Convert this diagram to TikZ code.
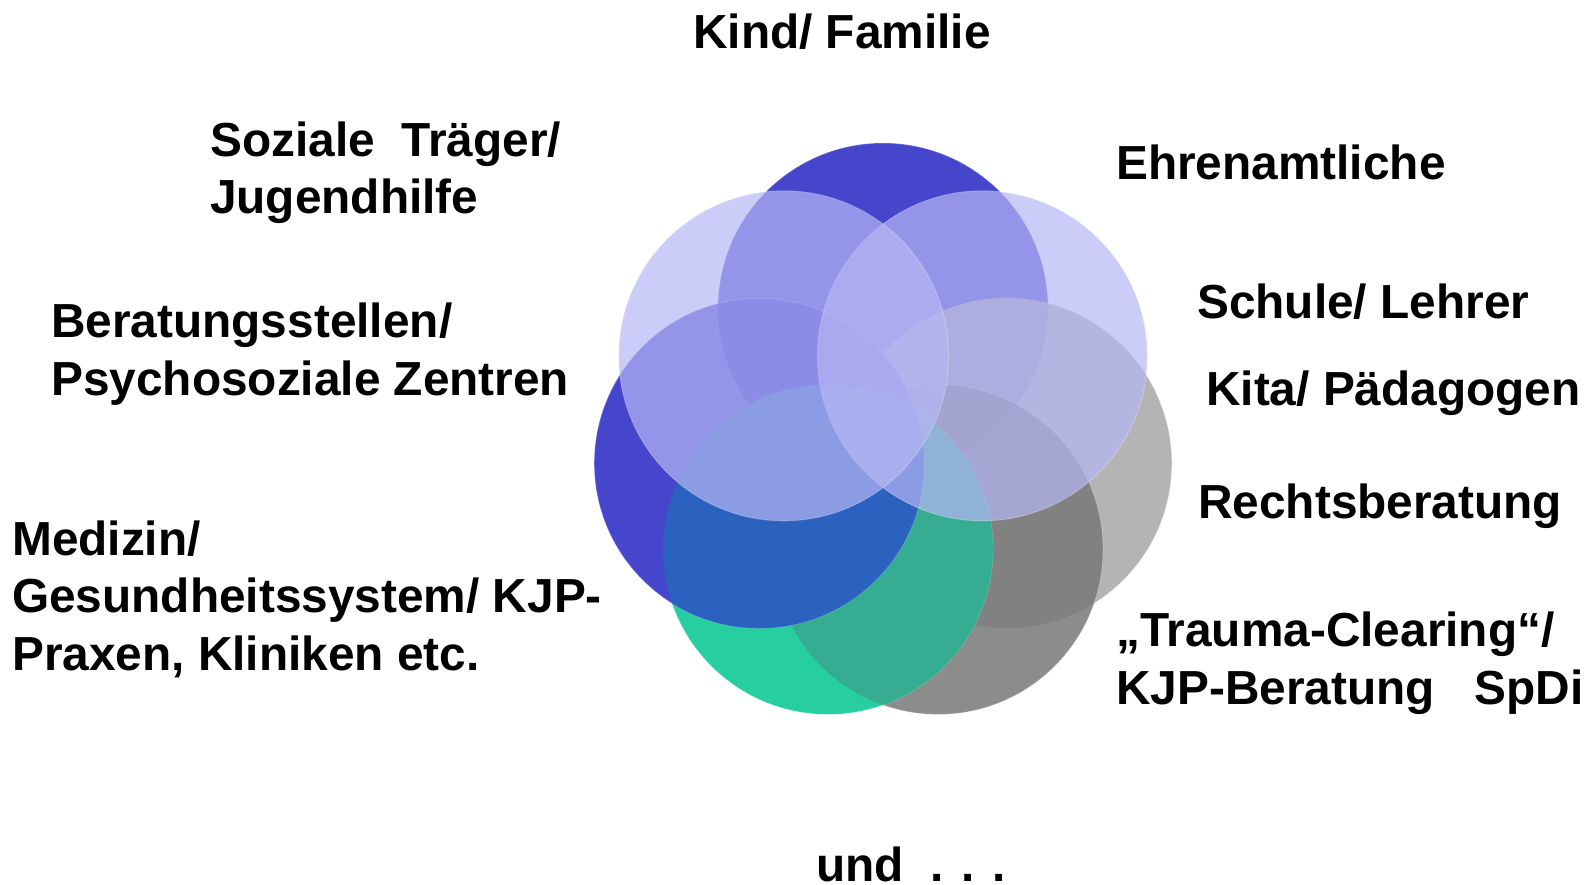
\documentclass[tikz,border=0pt]{standalone}
\usepackage{fontspec}
\setmainfont{Liberation Sans}
\usetikzlibrary{calc}

\definecolor{ringblue}{RGB}{38,38,196}
\definecolor{ringgreen}{RGB}{0,198,143}
\definecolor{ringmix}{RGB}{44,102,192}
\definecolor{ringteal}{RGB}{58,172,148}
\definecolor{ringgrey}{RGB}{167,167,167}
\definecolor{ringdark}{RGB}{120,120,120}
\definecolor{ringlilac}{RGB}{182,182,245}

\begin{document}
\begin{tikzpicture}[x=1pt, y=-1pt,
    ring/.style={circle, minimum size=330pt, inner sep=0pt, fill opacity=0.85, draw=white, draw opacity=0.25, line width=1pt},
    lilac/.style={ring, fill=ringlilac, fill opacity=0.7},
    partner/.style={anchor=base west, inner sep=0pt, align=left, font=\fontsize{47.8}{57.5}\selectfont\bfseries}]
    \useasboundingbox (0,0) rectangle (1594,885);
    \coordinate (mid) at (883,435);

    % rosette of seven circles
    \node[ring, fill=ringblue] (ring-top) at ($(mid)+(-90:127)$) {};
    \node[ring, fill=ringgrey] (ring-right) at ($(mid)+(12.86:127)$) {};
    \node[ring, fill=ringdark] (ring-lowright) at ($(mid)+(64.29:127)$) {};
    \node[ring, fill=ringgreen] (ring-lowleft) at ($(mid)+(115.71:127)$) {};
    % green over grey
    \begin{scope}
        \clip (ring-lowleft.center) circle (165);
        \fill[ringteal, opacity=0.9] (ring-lowright.center) circle (165);
    \end{scope}
    \node[ring, fill=ringblue] (ring-left) at ($(mid)+(167.14:127)$) {};
    % blue over green
    \begin{scope}
        \clip (ring-left.center) circle (165);
        \fill[ringmix, opacity=0.9] (ring-lowleft.center) circle (165);
    \end{scope}
    \node[lilac] (ring-topright) at ($(mid)+(-38.57:127)$) {};
    \node[lilac] (ring-topleft) at ($(mid)+(-141.43:127)$) {};

    % partners (base = last line)
    \node[partner] (kind-familie) at (693,49) {Kind/ Familie};
    \node[partner] (soziale-traeger) at (210,214) {Soziale\ \ Träger/\\Jugendhilfe};
    \node[partner] (ehrenamt) at (1116,180) {Ehrenamtliche};
    \node[partner] (schule) at (1197,318) {Schule/ Lehrer};
    \node[partner] (kita) at (1206,405) {Kita/ Pädagogen};
    \node[partner] (recht) at (1198,518) {Rechtsberatung};
    \node[partner] (trauma) at (1116,704) {„Trauma-Clearing“/\\KJP-Beratung\ \ \ SpDi};
    \node[partner] (beratung) at (51,395) {Beratungsstellen/\\Psychosoziale Zentren};
    \node[partner] (medizin) at (12,670) {Medizin/\\Gesundheitssystem/ KJP-\\Praxen, Kliniken etc.};
    \node[partner] (und) at (816,881) {und\ \ . . .};
\end{tikzpicture}
\end{document}
